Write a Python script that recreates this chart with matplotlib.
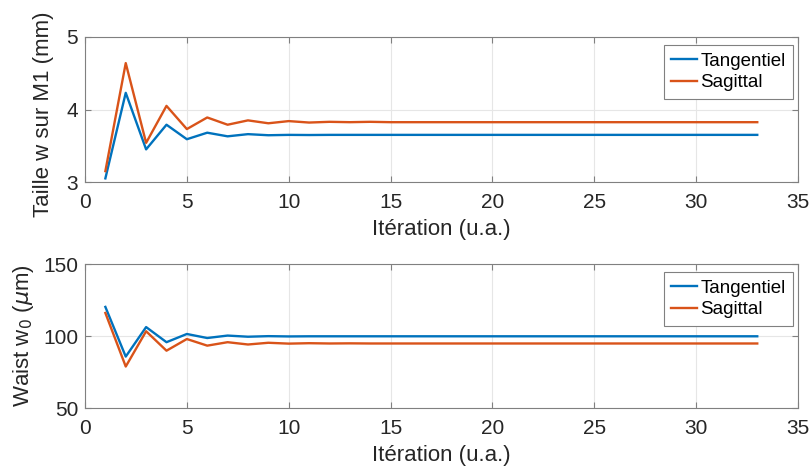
import matplotlib.pyplot as plt

plt.rcParams['font.family'] = ['Liberation Sans', 'DejaVu Sans']
plt.rcParams['mathtext.fontset'] = 'dejavusans'

iterations = list(range(1, 34))

# taille du faisceau sur M1 (mm)
w_tan = [3.05, 4.23, 3.45, 3.79, 3.59, 3.68, 3.63, 3.66, 3.645, 3.65, 3.648, 3.65,
         3.65, 3.65, 3.65, 3.65, 3.65, 3.65, 3.65, 3.65, 3.65, 3.65, 3.65, 3.65,
         3.65, 3.65, 3.65, 3.65, 3.65, 3.65, 3.65, 3.65, 3.65]
w_sag = [3.15, 4.64, 3.54, 4.05, 3.73, 3.89, 3.79, 3.85, 3.81, 3.84, 3.82, 3.83,
         3.825, 3.83, 3.825, 3.825, 3.825, 3.825, 3.825, 3.825, 3.825, 3.825, 3.825, 3.825,
         3.825, 3.825, 3.825, 3.825, 3.825, 3.825, 3.825, 3.825, 3.825]

# waist w0 (um)
w0_tan = [120.2, 85.7, 106.2, 95.7, 101.4, 98.6, 100.3, 99.5, 99.9, 99.7, 99.8, 99.8,
          99.8, 99.8, 99.8, 99.8, 99.8, 99.8, 99.8, 99.8, 99.8, 99.8, 99.8, 99.8,
          99.8, 99.8, 99.8, 99.8, 99.8, 99.8, 99.8, 99.8, 99.8]
w0_sag = [116.0, 78.8, 103.3, 89.8, 97.9, 93.3, 95.7, 94.1, 95.3, 94.7, 95.0, 94.8,
          94.9, 94.8, 94.8, 94.8, 94.8, 94.8, 94.8, 94.8, 94.8, 94.8, 94.8, 94.8,
          94.8, 94.8, 94.8, 94.8, 94.8, 94.8, 94.8, 94.8, 94.8]

blue = '#0072BD'
orange = '#D95319'

fig = plt.figure(figsize=(8.11, 4.71), dpi=100)
ax1 = fig.add_axes([85/811, 1-182/471, 713/811, 145/471])
ax2 = fig.add_axes([85/811, 1-408/471, 713/811, 144/471])

def style(ax):
    ax.grid(True, color='#e6e6e6', linewidth=0.8)
    ax.set_axisbelow(True)
    for s in ax.spines.values():
        s.set_color('#808080')
        s.set_linewidth(0.8)
    ax.tick_params(direction='in', length=4, colors='#808080', labelcolor='#262626',
                   labelsize=15, top=True, right=True)
    ax.tick_params(axis='x', pad=8)
    ax.tick_params(axis='y', pad=5)
    ax.set_xlim(0, 35)
    ax.set_xticks(range(0, 36, 5))

ax1.plot(iterations, w_tan, color=blue, lw=1.7, label='Tangentiel')
ax1.plot(iterations, w_sag, color=orange, lw=1.7, label='Sagittal')
style(ax1)
ax1.set_ylim(3, 5)
ax1.set_yticks([3, 4, 5])
ax1.set_xlabel('Itération (u.a.)', fontsize=16, color='#262626', labelpad=5)
ax1.set_ylabel('Taille w sur M1 (mm)', fontsize=16, color='#262626')
ax1.yaxis.set_label_coords(-0.043, 0.47)

ax2.plot(iterations, w0_tan, color=blue, lw=1.7, label='Tangentiel')
ax2.plot(iterations, w0_sag, color=orange, lw=1.7, label='Sagittal')
style(ax2)
ax2.set_ylim(50, 150)
ax2.set_yticks([50, 100, 150])
ax2.set_xlabel('Itération (u.a.)', fontsize=16, color='#262626', labelpad=5)
ax2.set_ylabel(r'Waist w$_0$ ($\mu$m)', fontsize=16, color='#262626')
ax2.yaxis.set_label_coords(-0.069, 0.5)

for ax in (ax1, ax2):
    leg = ax.legend(loc='upper right', bbox_to_anchor=(0.993, 0.945), fontsize=13.5,
                    handlelength=1.4, handletextpad=0.15, borderpad=0.4,
                    labelspacing=0.25, borderaxespad=0, fancybox=False, framealpha=1)
    leg.get_frame().set_edgecolor('#808080')
    leg.get_frame().set_linewidth(0.8)

fig.savefig('out.png', dpi=100)
